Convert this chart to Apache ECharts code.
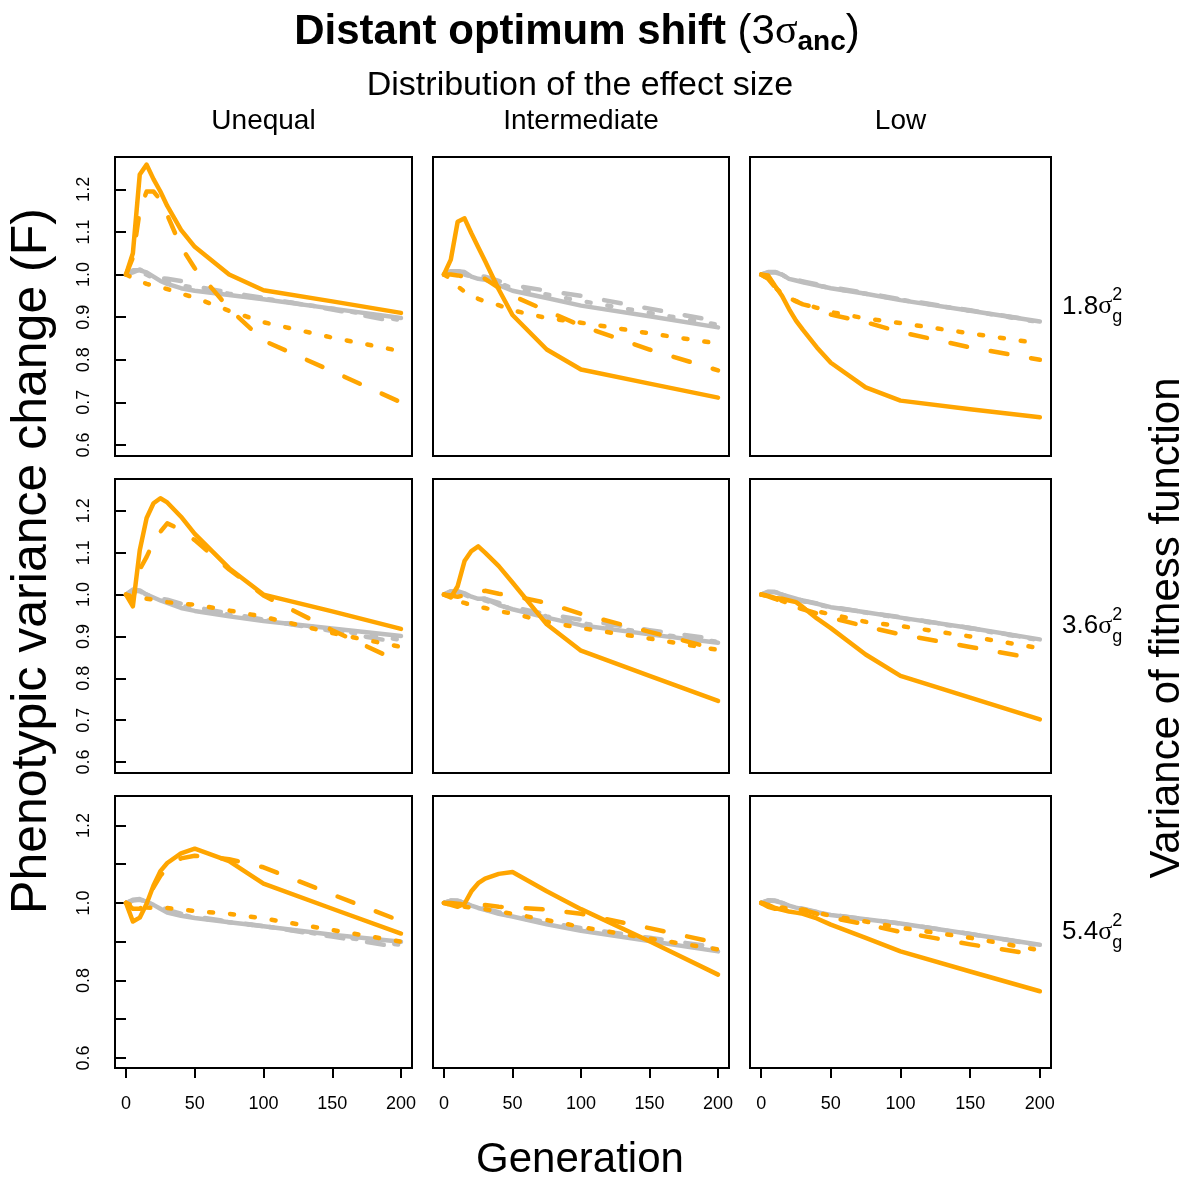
<!DOCTYPE html>
<html><head><meta charset="utf-8">
<script src="https://cdn.jsdelivr.net/npm/echarts@6/dist/echarts.min.js"></script>
<style>html,body{margin:0;padding:0;background:#fff}#c{width:1189px;height:1180px}</style>
</head><body><div id="c"></div><script>
// ---- data ----
const gens = [0, 5, 10, 15, 20, 25, 30, 40, 50, 75, 100, 150, 200];
const colLabels = ['Unequal', 'Intermediate', 'Low'];
const rowLabels = ['1.8', '3.6', '5.4'];
const xTicks = [0, 50, 100, 150, 200];
const yTicks = [0.6, 0.7, 0.8, 0.9, 1.0, 1.1, 1.2];
const yLabelsTop = [0.6, 0.7, 0.8, 0.9, 1.0, 1.1, 1.2];
const yLabelsBottom = [0.6, 0.8, 1.0, 1.2];

// Row 1 (1.8 sigma_g^2)
const U18_oS = [1.0, 1.05, 1.235, 1.258, 1.224, 1.195, 1.161, 1.105, 1.065, 1.0, 0.963, 0.937, 0.91];
const U18_oD = [1.0, 1.04, 1.15, 1.195, 1.195, 1.175, 1.14, 1.065, 1.015, 0.92, 0.845, 0.773, 0.70];
const U18_oT = [1.0, 0.992, 0.985, 0.978, 0.974, 0.97, 0.966, 0.955, 0.946, 0.915, 0.888, 0.852, 0.82];
const U18_gS = [1.0, 1.01, 1.01, 1.005, 0.995, 0.985, 0.978, 0.968, 0.962, 0.952, 0.942, 0.92, 0.898];
const U18_gD = [1.0, 1.005, 1.012, 1.003, 0.995, 0.992, 0.99, 0.985, 0.972, 0.958, 0.945, 0.918, 0.887];
const U18_gT = [1.0, 1.008, 1.005, 1.0, 0.99, 0.986, 0.982, 0.975, 0.968, 0.955, 0.944, 0.92, 0.893];

const I18_oS = [1.0, 1.035, 1.124, 1.132, 1.097, 1.064, 1.032, 0.965, 0.905, 0.824, 0.777, 0.744, 0.711];
const I18_oD = [1.0, 1.0, 0.998, 0.995, 0.993, 0.992, 0.99, 0.969, 0.95, 0.915, 0.88, 0.824, 0.775];
const I18_oT = [1.0, 0.99, 0.972, 0.96, 0.95, 0.943, 0.937, 0.928, 0.916, 0.898, 0.887, 0.862, 0.838];
const I18_gS = [1.0, 1.008, 1.008, 1.006, 0.995, 0.99, 0.988, 0.975, 0.962, 0.945, 0.927, 0.902, 0.876];
const I18_gD = [1.0, 1.008, 1.008, 1.005, 1.0, 0.997, 0.995, 0.985, 0.975, 0.962, 0.95, 0.92, 0.89];
const I18_gT = [1.0, 1.006, 1.005, 1.0, 0.995, 0.99, 0.99, 0.98, 0.968, 0.953, 0.938, 0.91, 0.882];

const L18_oS = [1.0, 0.998, 0.973, 0.95, 0.919, 0.892, 0.87, 0.829, 0.793, 0.735, 0.704, 0.684, 0.665];
const L18_oD = [1.0, 0.99, 0.97, 0.955, 0.945, 0.937, 0.93, 0.922, 0.906, 0.888, 0.865, 0.829, 0.80];
const L18_oT = [1.0, 0.99, 0.97, 0.955, 0.945, 0.938, 0.932, 0.922, 0.912, 0.897, 0.886, 0.862, 0.838];
const L18_gS = [1.0, 1.005, 1.005, 1.0, 0.99, 0.986, 0.982, 0.975, 0.968, 0.955, 0.94, 0.915, 0.89];
const L18_gD = [1.0, 1.006, 1.006, 1.002, 0.992, 0.988, 0.984, 0.977, 0.97, 0.957, 0.942, 0.916, 0.89];
const L18_gT = [1.0, 1.004, 1.004, 1.0, 0.99, 0.986, 0.983, 0.975, 0.968, 0.955, 0.941, 0.915, 0.888];

// Row 2 (3.6 sigma_g^2)
const U36_oS = [1.0, 0.972, 1.106, 1.183, 1.218, 1.23, 1.22, 1.186, 1.145, 1.063, 1.0, 0.96, 0.918];
const U36_oD = [1.0, 0.99, 1.06, 1.09, 1.125, 1.15, 1.17, 1.155, 1.13, 1.06, 0.998, 0.915, 0.838];
const U36_oT = [1.0, 0.995, 0.992, 0.99, 0.988, 0.985, 0.982, 0.978, 0.976, 0.962, 0.947, 0.908, 0.875];
const U36_gS = [1.0, 1.012, 1.01, 1.0, 0.993, 0.986, 0.98, 0.968, 0.961, 0.948, 0.937, 0.919, 0.901];
const U36_gD = [1.0, 1.01, 1.008, 1.0, 0.995, 0.99, 0.988, 0.978, 0.97, 0.955, 0.94, 0.913, 0.885];
const U36_gT = [1.0, 1.01, 1.006, 1.0, 0.993, 0.988, 0.984, 0.974, 0.966, 0.952, 0.94, 0.916, 0.892];

const I36_oS = [1.0, 0.993, 1.02, 1.08, 1.104, 1.115, 1.1, 1.068, 1.029, 0.929, 0.866, 0.806, 0.746];
const I36_oD = [1.0, 0.998, 0.995, 0.998, 1.0, 1.005, 1.009, 1.002, 0.997, 0.98, 0.954, 0.911, 0.869];
const I36_oT = [1.0, 0.995, 0.985, 0.98, 0.975, 0.97, 0.968, 0.96, 0.955, 0.935, 0.92, 0.895, 0.868];
const I36_gS = [1.0, 1.008, 1.008, 1.003, 0.995, 0.99, 0.99, 0.975, 0.965, 0.945, 0.927, 0.905, 0.885];
const I36_gD = [1.0, 1.008, 1.006, 1.0, 0.995, 0.99, 0.99, 0.98, 0.97, 0.953, 0.94, 0.915, 0.893];
const I36_gT = [1.0, 1.006, 1.004, 1.0, 0.993, 0.988, 0.986, 0.975, 0.966, 0.948, 0.932, 0.908, 0.887];

const L36_oS = [1.0, 0.997, 0.992, 0.99, 0.986, 0.982, 0.97, 0.943, 0.92, 0.857, 0.806, 0.754, 0.702];
const L36_oD = [1.0, 0.996, 0.99, 0.983, 0.977, 0.97, 0.965, 0.955, 0.945, 0.924, 0.905, 0.875, 0.845];
const L36_oT = [1.0, 0.998, 0.993, 0.985, 0.978, 0.972, 0.967, 0.96, 0.953, 0.935, 0.925, 0.9, 0.872];
const L36_gS = [1.0, 1.006, 1.006, 1.0, 0.995, 0.99, 0.985, 0.978, 0.97, 0.958, 0.945, 0.92, 0.893];
const L36_gD = [1.0, 1.007, 1.006, 1.002, 0.996, 0.99, 0.986, 0.979, 0.971, 0.958, 0.946, 0.92, 0.892];
const L36_gT = [1.0, 1.005, 1.005, 1.0, 0.994, 0.989, 0.984, 0.977, 0.969, 0.957, 0.944, 0.919, 0.891];

// Row 3 (5.4 sigma_g^2)
const U54_oS = [1.0, 0.952, 0.962, 0.998, 1.045, 1.082, 1.103, 1.128, 1.14, 1.108, 1.05, 0.985, 0.921];
const U54_oD = [1.0, 0.985, 0.985, 1.0, 1.04, 1.07, 1.09, 1.115, 1.122, 1.113, 1.092, 1.022, 0.953];
const U54_oT = [1.0, 0.993, 0.99, 0.988, 0.987, 0.987, 0.987, 0.983, 0.979, 0.972, 0.96, 0.93, 0.9];
const U54_gS = [1.0, 1.008, 1.01, 1.003, 0.995, 0.985, 0.975, 0.967, 0.961, 0.95, 0.94, 0.918, 0.9];
const U54_gD = [1.0, 1.006, 1.008, 1.004, 0.997, 0.99, 0.982, 0.972, 0.965, 0.952, 0.94, 0.913, 0.885];
const U54_gT = [1.0, 1.005, 1.006, 1.002, 0.995, 0.988, 0.98, 0.97, 0.962, 0.95, 0.94, 0.915, 0.892];

const I54_oS = [1.0, 0.995, 0.99, 0.998, 1.03, 1.051, 1.063, 1.075, 1.08, 1.03, 0.984, 0.901, 0.815];
const I54_oD = [1.0, 1.0, 0.998, 0.996, 0.995, 0.995, 0.995, 0.99, 0.988, 0.983, 0.972, 0.935, 0.896];
const I54_oT = [1.0, 0.995, 0.992, 0.99, 0.988, 0.986, 0.984, 0.978, 0.972, 0.956, 0.938, 0.908, 0.88];
const I54_gS = [1.0, 1.006, 1.005, 1.0, 0.993, 0.987, 0.982, 0.972, 0.965, 0.945, 0.928, 0.902, 0.875];
const I54_gD = [1.0, 1.006, 1.006, 1.001, 0.995, 0.99, 0.985, 0.976, 0.968, 0.95, 0.935, 0.91, 0.885];
const I54_gT = [1.0, 1.005, 1.004, 1.0, 0.993, 0.988, 0.983, 0.973, 0.966, 0.947, 0.932, 0.905, 0.88];

const L54_oS = [1.0, 0.995, 0.987, 0.982, 0.978, 0.975, 0.972, 0.96, 0.944, 0.91, 0.875, 0.823, 0.772];
const L54_oD = [1.0, 0.99, 0.985, 0.985, 0.985, 0.984, 0.982, 0.972, 0.962, 0.945, 0.925, 0.893, 0.865];
const L54_oT = [1.0, 0.995, 0.99, 0.988, 0.985, 0.985, 0.983, 0.975, 0.967, 0.952, 0.936, 0.91, 0.878];
const L54_gS = [1.0, 1.006, 1.005, 1.0, 0.993, 0.988, 0.984, 0.976, 0.969, 0.958, 0.947, 0.92, 0.892];
const L54_gD = [1.0, 1.007, 1.006, 1.002, 0.995, 0.989, 0.985, 0.977, 0.97, 0.958, 0.947, 0.92, 0.891];
const L54_gT = [1.0, 1.005, 1.005, 1.0, 0.993, 0.988, 0.983, 0.975, 0.968, 0.957, 0.946, 0.919, 0.89];

// ---- layout ----
const panels = [
  [U18_gS, U18_gD, U18_gT, U18_oT, U18_oD, U18_oS],
  [I18_gS, I18_gD, I18_gT, I18_oT, I18_oD, I18_oS],
  [L18_gS, L18_gD, L18_gT, L18_oT, L18_oD, L18_oS],
  [U36_gS, U36_gD, U36_gT, U36_oT, U36_oD, U36_oS],
  [I36_gS, I36_gD, I36_gT, I36_oT, I36_oD, I36_oS],
  [L36_gS, L36_gD, L36_gT, L36_oT, L36_oD, L36_oS],
  [U54_gS, U54_gD, U54_gT, U54_oT, U54_oD, U54_oS],
  [I54_gS, I54_gD, I54_gT, I54_oT, I54_oD, I54_oS],
  [L54_gS, L54_gD, L54_gT, L54_oT, L54_oD, L54_oS]
];
const ORANGE = '#FFA500', GREY = '#BEBEBE';
const DASH = [17, 24], DOT = [4, 17];
const lineStyles = [
  {color: GREY, type: 'solid'}, {color: GREY, type: DASH}, {color: GREY, type: DOT},
  {color: ORANGE, type: DOT}, {color: ORANGE, type: DASH}, {color: ORANGE, type: 'solid'}
];
const colLeft = [115, 433, 750], colWidth = [297, 296, 301];
const rowTop = [157, 479, 796], rowHeight = [299, 294, 272];
const FONT = "'Liberation Sans', Arial, Helvetica, sans-serif";
const SERIF = "'Liberation Serif', 'DejaVu Serif', serif";

const grids = [], xAxes = [], yAxes = [], series = [];
for (let r = 0; r < 3; r++) {
  for (let c = 0; c < 3; c++) {
    const i = r * 3 + c;
    grids.push({left: colLeft[c], top: rowTop[r], width: colWidth[c], height: rowHeight[r],
      show: true, borderColor: '#000', borderWidth: 2, backgroundColor: 'transparent'});
    const showX = r === 2, showY = c === 0;
    xAxes.push({gridIndex: i, type: 'value', min: -8, max: 208,
      axisLine: {show: false}, splitLine: {show: false},
      axisTick: {show: showX, customValues: xTicks, length: 10, lineStyle: {color: '#000', width: 2}},
      axisLabel: {show: showX, customValues: xTicks, margin: 27, fontSize: 18, color: '#000', fontFamily: FONT}});
    yAxes.push({gridIndex: i, type: 'value', min: 0.574, max: 1.276,
      axisLine: {show: false}, splitLine: {show: false},
      axisTick: {show: showY, customValues: yTicks, length: 10, lineStyle: {color: '#000', width: 2}},
      axisLabel: {show: showY, customValues: r === 2 ? yLabelsBottom : yLabelsTop, rotate: 90, margin: 22,
        fontSize: 18, color: '#000', fontFamily: FONT, formatter: v => (+v).toFixed(1)}});
    panels[i].forEach((vals, k) => {
      series.push({type: 'line', xAxisIndex: i, yAxisIndex: i, showSymbol: false, symbol: 'none',
        silent: true, animation: false, z: 2 + k,
        data: gens.map((g, j) => [g, vals[j]]),
        lineStyle: {color: lineStyles[k].color, type: lineStyles[k].type, width: 4.5, cap: 'round', join: 'round'}});
    });
  }
}

// ---- text helpers ----
const cv = document.createElement('canvas').getContext('2d');
function tw(t, f) { cv.font = f; return cv.measureText(t).width; }
function compose(pieces, x, y, align) {
  let total = 0;
  pieces.forEach(p => { if (p.adv !== false) total += tw(p.t, p.font); });
  let cx = align === 'center' ? x - total / 2 : x;
  const els = [];
  pieces.forEach(p => {
    els.push({type: 'text', x: cx, y: y + (p.dy || 0), silent: true,
      style: {text: p.t, font: p.font, fill: '#000', textAlign: 'left', textVerticalAlign: 'middle', verticalAlign: 'middle'}});
    if (p.adv !== false) cx += tw(p.t, p.font);
  });
  return els;
}
function txt(t, x, y, size, rot, weight) {
  return {type: 'text', x: x, y: y, rotation: rot || 0, silent: true,
    style: {text: t, font: (weight || 'normal') + ' ' + size + 'px ' + FONT, fill: '#000',
      textAlign: 'center', textVerticalAlign: 'middle', verticalAlign: 'middle'}};
}

let graphics = [];
graphics = graphics.concat(compose([
  {t: 'Distant optimum shift ', font: 'bold 42px ' + FONT},
  {t: '(3', font: 'normal 42px ' + FONT},
  {t: 'σ', font: 'normal 42px ' + SERIF},
  {t: 'anc', font: 'bold 28px ' + FONT, dy: 10},
  {t: ')', font: 'normal 42px ' + FONT}
], 577, 32, 'center'));
graphics.push(txt('Distribution of the effect size', 580, 86, 34));
colLabels.forEach((l, c) => graphics.push(txt(l, colLeft[c] + colWidth[c] / 2, 121, 28)));
graphics.push(txt('Generation', 580, 1160, 42));
graphics.push(txt('Phenotypic variance change (F)', 32, 561, 50, Math.PI / 2));
graphics.push(txt('Variance of fitness function', 1167, 628, 42, Math.PI / 2));
rowLabels.forEach((l, r) => {
  const cy = rowTop[r] + rowHeight[r] / 2;
  graphics = graphics.concat(compose([
    {t: l, font: 'normal 26px ' + FONT},
    {t: 'σ', font: 'normal 26px ' + SERIF},
    {t: '2', font: 'normal 18px ' + FONT, dy: -11, adv: false},
    {t: 'g', font: 'normal 18px ' + FONT, dy: 11}
  ], 1062, cy, 'left'));
});

const chart = echarts.init(document.getElementById('c'), null, {renderer: 'canvas'});
chart.setOption({
  animation: false,
  backgroundColor: '#fff',
  grid: grids, xAxis: xAxes, yAxis: yAxes, series: series,
  graphic: {elements: graphics}
});
</script></body></html>
